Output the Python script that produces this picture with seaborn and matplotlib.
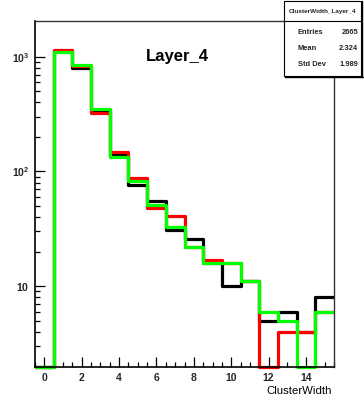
import numpy as np
import pandas as pd
import seaborn as sns
import matplotlib
matplotlib.use("Agg")
import matplotlib.pyplot as plt
from matplotlib.ticker import MultipleLocator, FixedLocator, FixedFormatter, NullFormatter
from matplotlib.patches import Rectangle
from matplotlib.lines import Line2D

# Cluster width histograms (counts per unit bin, bins centred on integers)
cluster_width = list(range(16))
counts_black = [0, 1130, 805, 340, 140, 76, 55, 31, 26, 16, 10, 11, 5, 6, 4, 8]
counts_red = [0, 1156, 830, 325, 147, 88, 48, 41, 22, 17, 16, 11, 0, 4, 4, 6]
counts_green = [0, 1100, 850, 348, 134, 82, 51, 33, 22, 16, 16, 11, 6, 5, 0, 6]

y_ticks = [10, 100, 1000]
y_tick_labels = [r"$\mathbf{10}$", r"$\mathbf{10^{2}}$", r"$\mathbf{10^{3}}$"]
y_minor_ticks = [m * d for d in (1, 10, 100) for m in range(2, 10) if m * d > 2]
x_ticks = [0, 2, 4, 6, 8, 10, 12, 14]

title_text = "Layer_4"
x_label = "ClusterWidth"
stats_title = "ClusterWidth_Layer_4"
stats_rows = [("Entries", "2665"), ("Mean", "2.324"), ("Std Dev", "1.989")]

sns.set_theme(style="white")
plt.rcParams["font.family"] = ["Liberation Sans", "DejaVu Sans"]
plt.rcParams["mathtext.fontset"] = "custom"
plt.rcParams["mathtext.rm"] = "Liberation Sans"
plt.rcParams["mathtext.bf"] = "Liberation Sans:bold"

W, H = 364, 398
fig = plt.figure(figsize=(W / 100, H / 100), dpi=100)
fig.patch.set_facecolor("white")
ax = fig.add_axes([35 / W, 1 - 367 / H, (334 - 35) / W, (367 - 21) / H])
ax.set_facecolor("white")

y_floor, y_top = 1.97, 2050

df = pd.DataFrame({
    "width": cluster_width,
    "black": counts_black,
    "red": counts_red,
    "green": counts_green,
})

for col, color in [("black", "#000000"), ("red", "#ff0000"), ("green", "#00ff00")]:
    # empty bins sit on the lower frame edge of the log axis
    df[col + "_shown"] = np.maximum(df[col].to_numpy(dtype=float), y_floor)
    sns.histplot(data=df, x="width", weights=col + "_shown", discrete=True,
                 element="step", fill=False, color=color, linewidth=2.3, ax=ax)

for ln in ax.lines:
    ln.set_clip_on(False)
    ln.set_solid_capstyle("butt")

ax.set_yscale("log")
ax.set_xlim(-0.5, 15.5)
ax.set_ylim(y_floor, y_top)
ax.set_xlabel("")
ax.set_ylabel("")

ax.xaxis.set_major_locator(FixedLocator(x_ticks))
ax.xaxis.set_minor_locator(MultipleLocator(0.5))
ax.yaxis.set_major_locator(FixedLocator(y_ticks))
ax.yaxis.set_major_formatter(FixedFormatter(y_tick_labels))
ax.yaxis.set_minor_locator(FixedLocator(y_minor_ticks))
ax.yaxis.set_minor_formatter(NullFormatter())

ax.tick_params(axis="x", which="major", direction="in", length=7, width=0.9,
               color="black", labelsize=7.5, pad=4, top=False, bottom=True)
ax.tick_params(axis="x", which="minor", direction="in", length=3.5, width=0.9,
               color="black", top=False, bottom=True)
ax.tick_params(axis="y", which="major", direction="in", length=7, width=0.9,
               color="black", labelsize=7.5, pad=4, left=True, right=False)
ax.tick_params(axis="y", which="minor", direction="in", length=3.5, width=0.9,
               color="black", left=True, right=False)
for lab in ax.get_xticklabels():
    lab.set_fontweight("bold")

for side in ["left", "bottom"]:
    ax.spines[side].set_color("black")
    ax.spines[side].set_linewidth(1.2)
for side in ["top", "right"]:
    ax.spines[side].set_color("#333333")
    ax.spines[side].set_linewidth(1.0)

fig.text(177 / W, 1 - 56 / H, title_text, ha="center", va="center",
         fontsize=12, fontweight="bold", color="black")
fig.text(332 / W, 1 - 391 / H, x_label, ha="right", va="center",
         fontsize=8.2, color="black")

# statistics box in the upper right corner
bx0, bx1, by0, by1 = 284, 361, 0.5, 76
fig.add_artist(Rectangle((bx0 / W, 1 - by1 / H), (bx1 - bx0) / W, (by1 - by0) / H,
                         transform=fig.transFigure, facecolor="white",
                         edgecolor="black", linewidth=0.8, zorder=5))
fig.add_artist(Line2D([(bx0 + 1) / W, (bx1 + 1.5) / W], [1 - (by1 + 1) / H, 1 - (by1 + 1) / H],
                      transform=fig.transFigure, color="black", linewidth=1.0, zorder=6))
fig.add_artist(Line2D([(bx1 + 1) / W, (bx1 + 1) / W], [1 - (by1 + 1) / H, 1 - 1 / H],
                      transform=fig.transFigure, color="black", linewidth=1.0, zorder=6))
fig.add_artist(Line2D([bx0 / W, bx1 / W], [1 - 21 / H, 1 - 21 / H],
                      transform=fig.transFigure, color="black", linewidth=0.8, zorder=6))
fig.text((bx0 + bx1) / 2 / W, 1 - 12 / H, stats_title, ha="center", va="center",
         fontsize=4.6, fontweight="bold", zorder=7)
for i, (name, val) in enumerate(stats_rows):
    yy = 1 - (32 + 16 * i) / H
    fig.text(298 / W, yy, name, ha="left", va="center", fontsize=5.4,
             fontweight="bold", zorder=7)
    fig.text(358 / W, yy, val, ha="right", va="center", fontsize=5.4,
             fontweight="bold", zorder=7)

fig.savefig("out.png", dpi=100, facecolor="white")
